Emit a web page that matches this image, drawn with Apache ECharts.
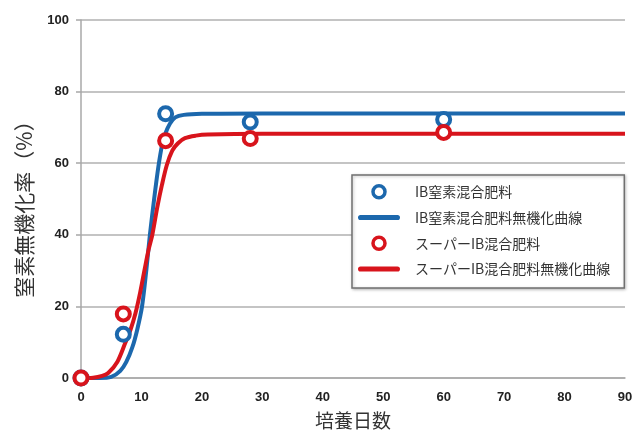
<!DOCTYPE html>
<html>
<head>
<meta charset="utf-8">
<script src="https://cdn.jsdelivr.net/npm/echarts@6/dist/echarts.min.js"></script>
<style>
  html, body { margin: 0; padding: 0; background: #fff; }
  #chart { width: 636px; height: 432px; }
</style>
</head>
<body>
<div id="chart"></div>
<script>
// Series names (legend order)
const nameIBPts   = 'IB窒素混合肥料';
const nameIBCurve = 'IB窒素混合肥料無機化曲線';
const nameSPPts   = 'スーパーIB混合肥料';
const nameSPCurve = 'スーパーIB混合肥料無機化曲線';

// Measured mineralization rate (%) by incubation day
const ibMeasured = [[0, 0], [7, 12.2], [14, 73.8], [28, 71.5], [60, 72.2]];
const spMeasured = [[0, 0], [7, 17.9], [14, 66.3], [28, 66.9], [60, 68.6]];

// Fitted mineralization curves
const ibCurve = [
  [0, 0], [3, 0], [5, 0.3], [6.5, 2], [7.5, 4.5], [8.5, 8.6], [9.3, 13.5],
  [10.1, 20], [10.8, 30], [11.4, 40], [12.1, 50], [12.8, 59], [13.4, 65],
  [13.9, 68], [14.7, 71], [15.6, 72.8], [17, 73.5], [20, 73.8], [30, 73.9], [90, 73.9]
];
const spCurve = [
  [0, 0], [2, 0.1], [3.5, 0.6], [4.5, 1.4], [6, 4.5], [7.3, 9.7], [8.2, 13.5],
  [9, 18], [9.8, 24], [10.6, 31], [11.2, 36], [11.8, 40], [12.6, 47.5],
  [13.4, 54], [14.2, 59.5], [15.1, 63.5], [16, 65.5], [17.2, 67], [19, 67.7],
  [21, 68], [30, 68.2], [90, 68.2]
];

// Axis ranges
const xMin = 0, xMax = 90, xStep = 10;
const yMin = 0, yMax = 100, yStep = 20;

const BLUE = '#1c68ad';
const RED = '#d8141c';
const labelFont = { fontFamily: 'Liberation Sans', fontWeight: 'bold', fontSize: 13, color: '#222' };
const cjkFont = 'Noto Sans CJK JP';
const barIcon = 'path://M2,0L38,0A2,2 0 0 1 38,5L2,5A2,2 0 0 1 2,0Z';

const chart = echarts.init(document.getElementById('chart'), null, { renderer: 'canvas' });

chart.setOption({
  animation: false,
  backgroundColor: '#fff',
  grid: { left: 81, right: 11, top: 20, bottom: 54, outerBoundsMode: 'none', containLabel: false },
  xAxis: {
    type: 'value', min: xMin, max: xMax, interval: xStep,
    name: '培養日数', nameLocation: 'middle', nameGap: 33,
    nameTextStyle: { fontFamily: cjkFont, fontSize: 19, color: '#333' },
    axisLine: { show: true, lineStyle: { color: '#a8a8a8', width: 1.5 } },
    axisTick: { show: false },
    axisLabel: Object.assign({ margin: 13 }, labelFont),
    splitLine: { show: false }
  },
  yAxis: {
    type: 'value', min: yMin, max: yMax, interval: yStep,
    name: '窒素無機化率（%）', nameLocation: 'middle', nameGap: 46, nameRotate: 90,
    nameTextStyle: { fontFamily: cjkFont, fontSize: 21, color: '#333', padding: [0, 10, 0, 0] },
    axisLine: { show: true, lineStyle: { color: '#a8a8a8', width: 1.5 } },
    axisTick: { show: true, length: 5, lineStyle: { color: '#a8a8a8', width: 1.5 } },
    axisLabel: Object.assign({ margin: 12 }, labelFont),
    splitLine: { show: true, lineStyle: { color: '#b0b0b0', width: 1.5 } }
  },
  legend: {
    orient: 'vertical', left: 352, top: 175,
    padding: [9, 14, 12, 6], itemGap: 11,
    itemWidth: 42, itemHeight: 12,
    backgroundColor: '#fff',
    borderColor: '#707070', borderWidth: 1.5,
    shadowColor: 'rgba(0,0,0,0.25)', shadowBlur: 3, shadowOffsetX: 1, shadowOffsetY: 1,
    textStyle: { fontFamily: cjkFont, fontSize: 14, color: '#333', padding: [0, 0, 0, 10] },
    data: [
      { name: nameIBPts, icon: 'circle', itemStyle: { color: '#fff', borderColor: BLUE, borderWidth: 3.5 } },
      { name: nameIBCurve, icon: barIcon, itemStyle: { color: BLUE } },
      { name: nameSPPts, icon: 'circle', itemStyle: { color: '#fff', borderColor: RED, borderWidth: 3.5 } },
      { name: nameSPCurve, icon: barIcon, itemStyle: { color: RED } }
    ]
  },
  series: [
    {
      name: nameIBPts, type: 'scatter', data: ibMeasured, z: 5,
      symbol: 'circle', symbolSize: 13,
      itemStyle: { color: '#fff', borderColor: BLUE, borderWidth: 4, opacity: 1 }
    },
    {
      name: nameIBCurve, type: 'line', data: ibCurve, z: 2,
      showSymbol: false, smooth: 0.3,
      lineStyle: { color: BLUE, width: 4 }, itemStyle: { color: BLUE }
    },
    {
      name: nameSPPts, type: 'scatter', data: spMeasured, z: 6,
      symbol: 'circle', symbolSize: 13,
      itemStyle: { color: '#fff', borderColor: RED, borderWidth: 4, opacity: 1 }
    },
    {
      name: nameSPCurve, type: 'line', data: spCurve, z: 3,
      showSymbol: false, smooth: 0.3,
      lineStyle: { color: RED, width: 4 }, itemStyle: { color: RED }
    }
  ]
});
</script>
</body>
</html>
